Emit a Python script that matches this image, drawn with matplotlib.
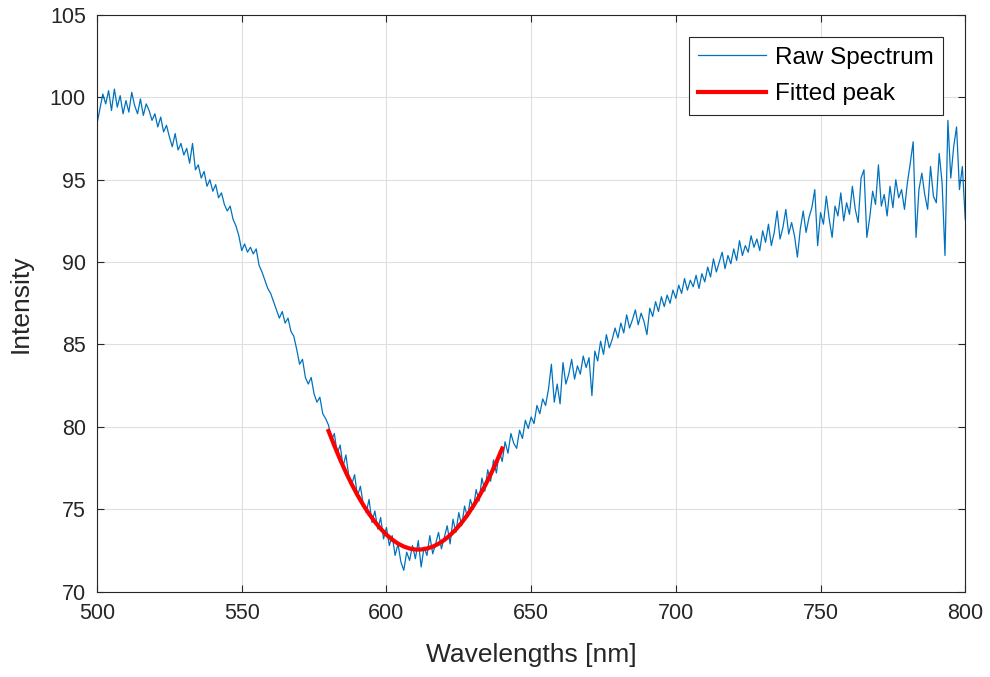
import numpy as np
import matplotlib
matplotlib.use("Agg")
import matplotlib.pyplot as plt

plt.rcParams['font.family'] = ['Liberation Sans', 'DejaVu Sans']

# raw spectrum, 1 nm steps from 500 to 800 nm
wl_start = 500
raw_intensity = [
    98.4, 99.3, 100.2, 99.6, 100.4, 99.2, 100.5, 99.4, 100.1, 99.0,
    99.8, 99.1, 100.3, 99.5, 99.0, 99.9, 98.9, 99.6, 99.2, 98.6,
    99.0, 98.2, 98.8, 97.9, 98.3, 97.6, 97.0, 97.8, 96.8, 97.2,
    96.5, 96.9, 96.0, 97.2, 95.6, 95.9, 95.1, 95.5, 94.6, 95.0,
    94.3, 94.7, 93.9, 94.2, 93.5, 93.1, 93.4, 92.6, 92.2, 91.6,
    90.7, 91.1, 90.6, 90.9, 90.5, 90.8, 89.8, 89.4, 88.9, 88.4,
    88.1, 87.6, 87.1, 86.6, 87.0, 86.3, 86.6, 85.8, 85.5, 84.7,
    83.8, 84.1, 83.0, 82.6, 83.0, 82.0, 81.5, 81.8, 80.8, 80.5,
    80.1, 79.2, 79.6, 78.4, 78.9, 77.6, 78.3, 77.0, 76.5, 77.1,
    75.8, 76.4, 75.3, 74.8, 75.6, 74.2, 74.9, 73.8, 74.5, 73.2,
    73.9, 72.8, 73.4, 72.2, 72.9, 71.8, 71.3, 72.4, 71.9, 72.8,
    72.0, 73.1, 71.5, 72.7, 72.2, 73.4, 72.3, 72.9, 73.6, 72.6,
    73.3, 74.0, 72.9, 74.4, 73.6, 74.8, 74.0, 75.2, 74.5, 75.6,
    75.0, 76.2, 75.5, 76.9, 76.1, 77.4, 76.7, 78.0, 77.2, 78.5,
    77.9, 79.1, 78.4, 79.6, 79.0, 78.7, 79.8, 79.3, 80.4, 79.9,
    80.6, 80.2, 81.3, 80.8, 81.7, 81.3, 82.3, 83.8, 81.5, 82.6,
    81.4, 83.9, 82.6, 83.2, 84.1, 82.9, 83.7, 83.2, 84.3, 83.6,
    84.2, 81.9, 84.6, 84.0, 85.2, 84.4, 85.6, 84.8, 85.3, 86.0,
    85.4, 86.3, 85.7, 86.8, 86.0, 86.5, 87.1, 86.2, 86.9, 86.4,
    85.6, 87.2, 86.7, 87.6, 87.0, 87.9, 87.3, 88.0, 87.5, 88.3,
    87.8, 88.6, 88.1, 89.0, 88.3, 88.9, 88.5, 89.2, 88.4, 89.3,
    88.8, 89.7, 89.1, 90.2, 89.4, 90.0, 90.6, 89.6, 90.4, 89.9,
    90.8, 90.1, 91.3, 90.4, 91.0, 90.6, 91.6, 90.9, 91.4, 90.7,
    91.9, 91.2, 92.3, 91.0, 91.8, 93.1, 91.4, 92.1, 93.2, 91.7,
    92.4, 91.6, 90.3, 92.0, 93.1, 91.8, 92.7, 93.3, 94.4, 91.0,
    93.0, 92.3, 94.0, 92.6, 91.5, 93.4, 92.8, 94.2, 92.5, 93.6,
    92.9, 94.6, 93.2, 92.4, 95.1, 95.6, 91.5, 92.7, 94.3, 93.5,
    95.9, 93.4, 94.1, 92.8, 94.6, 93.3, 95.0, 93.9, 94.4, 93.2,
    94.8, 96.0, 97.3, 91.5, 94.4, 95.4, 94.1, 93.2, 95.8, 94.0,
    93.6, 96.6, 94.8, 90.4, 98.6, 95.1, 97.0, 98.2, 94.4, 95.8,
    92.6,
]
wavelengths = np.arange(wl_start, wl_start + len(raw_intensity))

# fitted peak, 2 nm steps from 580 to 640 nm
fit_wl = [580, 582, 584, 586, 588, 590, 592, 594, 596, 598, 600, 602, 604, 606, 608, 610,
          612, 614, 616, 618, 620, 622, 624, 626, 628, 630, 632, 634, 636, 638, 640]
fit_intensity = [79.75, 78.86, 78.02, 77.24, 76.52, 75.86, 75.26, 74.72, 74.24, 73.82,
                 73.46, 73.16, 72.92, 72.74, 72.62, 72.56, 72.56, 72.62, 72.73, 72.91,
                 73.14, 73.43, 73.78, 74.19, 74.66, 75.19, 75.77, 76.41, 77.11, 77.87, 78.69]

fig = plt.figure(figsize=(9.9, 6.77), dpi=100)
ax = fig.add_axes([0.098, 0.126, 0.877, 0.852])

ax.plot(wavelengths, raw_intensity, color='#0072BD', linewidth=0.9, label='Raw Spectrum')
ax.plot(fit_wl, fit_intensity, color='#FF0000', linewidth=3, label='Fitted peak')

ax.set_xlim(500, 800)
ax.set_ylim(70, 105)
ax.set_xticks(np.arange(500, 801, 50))
ax.set_yticks(np.arange(70, 106, 5))
ax.grid(True, color='#dfdfdf', linewidth=0.8)
ax.set_axisbelow(True)

ax.tick_params(direction='in', top=True, right=True, labelsize=15.5,
               colors='#262626', length=5, width=0.8, pad=8)
for s in ax.spines.values():
    s.set_color('#262626')
    s.set_linewidth(0.8)

ax.set_xlabel('Wavelengths [nm]', fontsize=19, color='#262626', labelpad=14)
ax.set_ylabel('Intensity', fontsize=19, color='#262626', labelpad=12)

leg = ax.legend(loc='upper right', fontsize=17.5, fancybox=False, framealpha=1,
                edgecolor='#262626', borderaxespad=0.9, handlelength=2.8,
                handletextpad=0.35, borderpad=0.4, labelspacing=0.6)
leg.get_frame().set_linewidth(0.8)

fig.savefig('out.png', dpi=100)
